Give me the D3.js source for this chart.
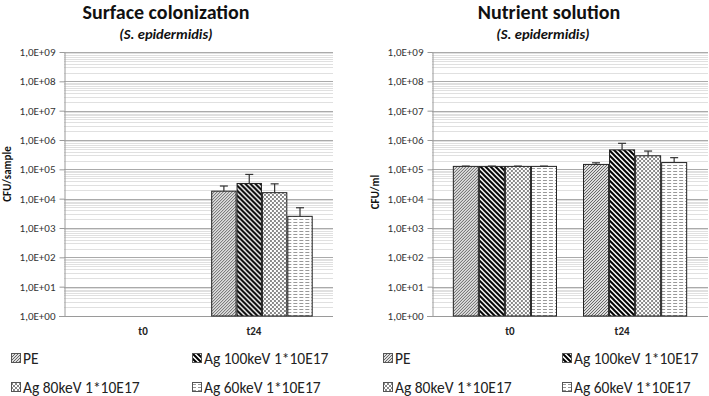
<!DOCTYPE html>
<html>
<head>
<meta charset="utf-8">
<script src="https://cdn.jsdelivr.net/npm/d3@7"></script>
<style>
  body { margin: 0; background: #fff; }
  svg { display: block; font-family: Carlito, Lato, "Open Sans", sans-serif; }
</style>
</head>
<body>
<svg id="chart" width="709" height="396"></svg>
<script>
const timepoints = ["t0", "t24"];
const seriesNames = ["PE", "Ag 100keV 1*10E17", "Ag 80keV 1*10E17", "Ag 60keV 1*10E17"];
const decadeLabels = ["1,0E+00", "1,0E+01", "1,0E+02", "1,0E+03", "1,0E+04",
                      "1,0E+05", "1,0E+06", "1,0E+07", "1,0E+08", "1,0E+09"];

// surface colonization, CFU/sample (no counts at t0)
const surfaceT0 = [null, null, null, null];
const surfaceT24 = [1.8e4, 3.3e4, 1.6e4, 2.5e3];
const surfaceErrT0 = [null, null, null, null];
const surfaceErrT24 = [9e3, 3.4e4, 1.6e4, 2.4e3];

// nutrient solution, CFU/ml
const nutrientT0 = [1.26e5, 1.26e5, 1.26e5, 1.26e5];
const nutrientT24 = [1.47e5, 4.6e5, 2.9e5, 1.7e5];
const nutrientErrT0 = [3e3, 3e3, 3e3, 3e3];
const nutrientErrT24 = [2e4, 3.1e5, 1.3e5, 8e4];

const svg = d3.select("#chart");
const defs = svg.append("defs");

// fill patterns, one per series
function makePatterns() {
  // PE: fine upward diagonal
  let p = defs.append("pattern").attr("id", "pat-0")
    .attr("patternUnits", "userSpaceOnUse").attr("width", 3).attr("height", 3);
  p.append("rect").attr("width", 3).attr("height", 3).attr("fill", "#dedede");
  p.append("path").attr("d", "M-1,1 l2,-2 M0,3 l3,-3 M2,4 l2,-2")
    .attr("stroke", "#666").attr("stroke-width", 1);

  // Ag 100: bold downward diagonal
  p = defs.append("pattern").attr("id", "pat-1")
    .attr("patternUnits", "userSpaceOnUse").attr("width", 5).attr("height", 5);
  p.append("rect").attr("width", 5).attr("height", 5).attr("fill", "#fff");
  p.append("path").attr("d", "M-1,-1 l7,7 M-1,4 l2,2 M4,-1 l2,2")
    .attr("stroke", "#000").attr("stroke-width", 2);

  // Ag 80: small checker
  p = defs.append("pattern").attr("id", "pat-2")
    .attr("patternUnits", "userSpaceOnUse").attr("width", 4).attr("height", 4);
  p.append("rect").attr("width", 4).attr("height", 4).attr("fill", "#fff");
  p.append("rect").attr("width", 2).attr("height", 2).attr("fill", "#8a8a8a");
  p.append("rect").attr("x", 2).attr("y", 2).attr("width", 2).attr("height", 2).attr("fill", "#8a8a8a");

  // Ag 60: horizontal dashes
  p = defs.append("pattern").attr("id", "pat-3")
    .attr("patternUnits", "userSpaceOnUse").attr("width", 6).attr("height", 3);
  p.append("rect").attr("width", 6).attr("height", 3).attr("fill", "#fff");
  p.append("rect").attr("y", 0).attr("width", 4).attr("height", 1).attr("fill", "#999");
}
makePatterns();

function drawPanel(cfg) {
  const g = svg.append("g");

  const y = d3.scaleLog().domain([1, 1e9]).range([cfg.bottom, cfg.top]);
  const x0 = d3.scaleBand().domain(timepoints).range([cfg.left, cfg.right])
    .paddingInner(0.2).paddingOuter(0.16);
  const x1 = d3.scaleBand().domain(d3.range(seriesNames.length)).range([0, x0.bandwidth()]);

  // minor gridlines 2..9 of each decade
  const minor = [];
  for (let e = 0; e < 9; e++) for (let k = 2; k <= 9; k++) minor.push(k * Math.pow(10, e));
  g.append("g").selectAll("line").data(minor).join("line")
    .attr("x1", cfg.left).attr("x2", cfg.right)
    .attr("y1", d => Math.round(y(d)) + 0.5).attr("y2", d => Math.round(y(d)) + 0.5)
    .attr("stroke", "#e0e0e0").attr("stroke-width", 1);

  // major gridlines + y axis
  const decades = d3.range(0, 10).map(e => Math.pow(10, e));
  g.append("g").selectAll("line").data(decades.slice(1)).join("line")
    .attr("x1", cfg.left).attr("x2", cfg.right)
    .attr("y1", d => Math.round(y(d)) + 0.5).attr("y2", d => Math.round(y(d)) + 0.5)
    .attr("stroke", "#aaa").attr("stroke-width", 1);

  const yAxis = g.append("g")
    .attr("transform", `translate(${cfg.left + 0.5},0)`)
    .call(d3.axisLeft(y).tickValues(decades)
      .tickFormat((d, i) => decadeLabels[i]).tickSize(5).tickSizeOuter(0));
  yAxis.select(".domain").attr("stroke", "#9a9a9a");
  yAxis.selectAll(".tick line").attr("stroke", "#9a9a9a");
  yAxis.selectAll(".tick text").attr("font-size", 11).attr("fill", "#333")
    .attr("font-family", "Carlito, Lato, sans-serif").attr("dx", "-1");

  // baseline
  g.append("line")
    .attr("x1", cfg.left - 5).attr("x2", cfg.right)
    .attr("y1", Math.round(y(1)) + 0.5).attr("y2", Math.round(y(1)) + 0.5)
    .attr("stroke", "#9a9a9a");

  // bars
  const rows = [];
  timepoints.forEach((t, ti) => {
    cfg.values[ti].forEach((v, si) => {
      if (v != null) rows.push({ t, si, v, err: cfg.errors[ti][si] });
    });
  });

  const bars = g.append("g").selectAll("g").data(rows).join("g")
    .attr("transform", d => `translate(${x0(d.t) + x1(d.si)},0)`);

  bars.append("rect")
    .attr("x", 0.5).attr("width", x1.bandwidth() - 1)
    .attr("y", d => y(d.v)).attr("height", d => y(1) - y(d.v))
    .attr("fill", d => `url(#pat-${d.si})`)
    .attr("stroke", "#222").attr("stroke-width", 1);

  const cx = x1.bandwidth() / 2;
  bars.append("line")
    .attr("x1", cx).attr("x2", cx)
    .attr("y1", d => y(d.v)).attr("y2", d => y(d.v + d.err))
    .attr("stroke", "#333").attr("stroke-width", 1.2);
  bars.append("line")
    .attr("x1", cx - 4).attr("x2", cx + 4)
    .attr("y1", d => y(d.v + d.err)).attr("y2", d => y(d.v + d.err))
    .attr("stroke", "#333").attr("stroke-width", 1.2);

  // category labels
  g.append("g").selectAll("text").data(timepoints).join("text")
    .attr("x", (d, i) => x0(d) + x0.bandwidth() / 2 + cfg.labelShift[i])
    .attr("y", cfg.bottom + 19)
    .attr("text-anchor", "middle").attr("font-size", 11).attr("font-weight", "bold")
    .attr("fill", "#222").text(d => d);

  // titles
  g.append("text").attr("x", cfg.titleX).attr("y", 19)
    .attr("text-anchor", "middle").attr("font-size", 20).attr("font-weight", "bold")
    .attr("fill", "#111").text(cfg.title);
  g.append("text").attr("x", cfg.subtitleX).attr("y", 39)
    .attr("text-anchor", "middle").attr("font-size", 14.5).attr("font-weight", "bold")
    .attr("font-style", "italic").attr("fill", "#111").text("(S. epidermidis)");

  // y axis title
  g.append("text")
    .attr("transform", `translate(${cfg.yTitleX},${cfg.yTitleY}) rotate(-90)`)
    .attr("text-anchor", "middle").attr("font-size", 11).attr("font-weight", "bold")
    .attr("fill", "#111").text(cfg.yTitle);

  // legend
  const leg = g.append("g").selectAll("g").data(seriesNames).join("g")
    .attr("transform", (d, i) =>
      `translate(${cfg.legendX[i % 2]},${i < 2 ? 358 : 387})`);
  leg.append("rect")
    .attr("x", 0.5).attr("y", -4.5).attr("width", 9).attr("height", 9)
    .attr("fill", (d, i) => `url(#pat-${i})`)
    .attr("stroke", "#555").attr("stroke-width", 1);
  leg.append("text")
    .attr("x", 12).attr("y", 0).attr("dy", "0.36em")
    .attr("font-size", 15.5).attr("fill", "#222").text(d => d);
}

drawPanel({
  left: 64, right: 333, top: 52, bottom: 316,
  values: [surfaceT0, surfaceT24], errors: [surfaceErrT0, surfaceErrT24],
  title: "Surface colonization", titleX: 166, subtitleX: 166,
  yTitle: "CFU/sample", yTitleX: 11, yTitleY: 174,
  labelShift: [8, -8],
  legendX: [11, 192]
});

drawPanel({
  left: 432, right: 708, top: 52, bottom: 316,
  values: [nutrientT0, nutrientT24], errors: [nutrientErrT0, nutrientErrT24],
  title: "Nutrient solution", titleX: 549, subtitleX: 543,
  yTitle: "CFU/ml", yTitleX: 379, yTitleY: 192,
  labelShift: [5, -13],
  legendX: [383, 562]
});
</script>
</body>
</html>
